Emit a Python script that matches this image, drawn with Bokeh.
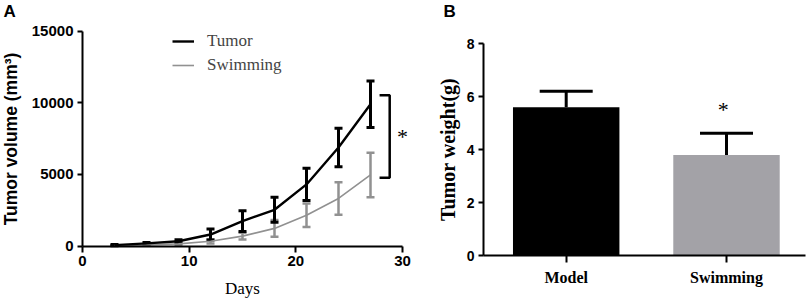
from bokeh.plotting import figure
from bokeh.models import (Range1d, FixedTicker, Whisker, TeeHead, ColumnDataSource,
                          Label, Legend, LegendItem)
from bokeh.layouts import row
from bokeh.embed import file_html
from bokeh.resources import INLINE

# ---------------- data ----------------
days = [3, 6, 9, 12, 15, 18, 21, 24, 27]
tumor_mean = [60, 180, 330, 800, 1740, 2530, 4300, 6880, 9900]
tumor_err = [40, 60, 100, 380, 730, 880, 1130, 1340, 1630]
swim_mean = [30, 80, 150, 330, 690, 1230, 2150, 3320, 4960]
swim_err = [20, 40, 60, 150, 230, 580, 820, 1140, 1550]

groups = ["Model", "Swimming"]
weight_mean = [5.60, 3.80]
weight_err = [0.61, 0.82]

x_ticks_a = [0, 10, 20, 30]
y_ticks_a = [0, 5000, 10000, 15000]
y_ticks_b = [0, 2, 4, 6, 8]

SANS = "Liberation Sans"
SERIF = "Liberation Serif"
GRAY = "#919191"
BAR_GRAY = "#a3a2a7"

H = 301
WA, WB = 420, 389


def ranges_for(width, x0_px, x1_px, x0_val, x1_val, y0_px, y1_px, y0_val, y1_val):
    """Data ranges so that the given values fall at the given pixel positions of a
    frame that fills the whole figure."""
    sx = (x1_val - x0_val) / (x1_px - x0_px)
    sy = (y1_val - y0_val) / (y0_px - y1_px)
    xs, xe = x0_val - x0_px * sx, x0_val + (width - x0_px) * sx
    ys, ye = y0_val - (H - y0_px) * sy, y0_val + y0_px * sy
    return (xs, xe, ys, ye, sx, sy)


def style_axes(p):
    p.xgrid.visible = False
    p.ygrid.visible = False
    p.outline_line_color = None
    for ax in (p.xaxis[0], p.yaxis[0]):
        ax.axis_line_width = 2
        ax.axis_line_color = "black"
        ax.major_tick_line_width = 2
        ax.major_tick_line_color = "black"
        ax.major_tick_in = 0
        ax.minor_tick_line_color = None
        ax.major_label_text_color = "black"
        ax.axis_label_text_color = "black"
        ax.axis_label_text_font_style = "bold"


# ---------------- panel A ----------------
xa0, xa1, ya0, ya1, sxa, sya = ranges_for(WA, 82, 402, 0, 30, 245.5, 30.7, 0, 15000)
pa = figure(width=WA, height=H, x_range=Range1d(xa0, xa1), y_range=Range1d(ya0, ya1),
            output_backend="svg", toolbar_location=None,
            min_border_left=0, min_border_right=0, min_border_top=0, min_border_bottom=0)
style_axes(pa)
pa.xaxis.fixed_location = 0
pa.yaxis.fixed_location = 0
pa.xaxis.bounds = (x_ticks_a[0], x_ticks_a[-1])
pa.yaxis.bounds = (y_ticks_a[0], y_ticks_a[-1])
pa.xaxis.ticker = FixedTicker(ticks=x_ticks_a)
pa.yaxis.ticker = FixedTicker(ticks=y_ticks_a)
pa.xaxis.major_tick_out = 6
pa.yaxis.major_tick_out = 5
for ax in (pa.xaxis[0], pa.yaxis[0]):
    ax.major_label_text_font = SANS
    ax.major_label_text_font_style = "bold"
    ax.major_label_text_font_size = "15px"
    ax.major_label_standoff = 4
pa.xaxis.axis_label = "Days"
pa.xaxis.axis_label_text_font = SERIF
pa.xaxis.axis_label_text_font_style = "normal"
pa.xaxis.axis_label_text_font_size = "17px"
pa.xaxis.axis_label_standoff = 9
pa.yaxis.axis_label = "Tumor volume (mm³)"
pa.yaxis.axis_label_text_font = SANS
pa.yaxis.axis_label_text_font_size = "17.5px"
pa.yaxis.axis_label_standoff = 8

src_t = ColumnDataSource(dict(x=days, m=tumor_mean,
                              up=[m + e for m, e in zip(tumor_mean, tumor_err)],
                              lo=[m - e for m, e in zip(tumor_mean, tumor_err)]))
src_s = ColumnDataSource(dict(x=days, m=swim_mean,
                              up=[m + e for m, e in zip(swim_mean, swim_err)],
                              lo=[m - e for m, e in zip(swim_mean, swim_err)]))

ws = Whisker(base="x", upper="up", lower="lo", source=src_s, line_color=GRAY, line_width=2.5,
             upper_head=TeeHead(size=8, line_color=GRAY, line_width=2.5),
             lower_head=TeeHead(size=8, line_color=GRAY, line_width=2.5))
pa.add_layout(ws)
l_s = pa.line("x", "m", source=src_s, line_color=GRAY, line_width=1.6)
wt = Whisker(base="x", upper="up", lower="lo", source=src_t, line_color="black", line_width=3,
             upper_head=TeeHead(size=8, line_color="black", line_width=3),
             lower_head=TeeHead(size=8, line_color="black", line_width=3))
pa.add_layout(wt)
l_t = pa.line("x", "m", source=src_t, line_color="black", line_width=2.4)

# legend: top-left corner of the box at (172, 30) in pixels; box is 2*22+2 = 46 tall
legend = Legend(items=[LegendItem(label="Tumor", renderers=[l_t]),
                       LegendItem(label="Swimming", renderers=[l_s])],
                location=(172, H - 30 - 46), padding=0, margin=0, spacing=2,
                glyph_width=22, glyph_height=22, label_height=22, label_standoff=13,
                label_text_font=SERIF, label_text_font_size="17px",
                border_line_color=None, background_fill_alpha=0)
pa.add_layout(legend)

# significance bracket
b_top = tumor_mean[-1] + 620
b_bot = swim_mean[-1] - 190
bx0 = days[-1] + 0.85
bx1 = days[-1] + 1.8
pa.line([bx0, bx1, bx1, bx0], [b_top, b_top, b_bot, b_bot], line_color="black", line_width=2.5)
pa.add_layout(Label(x=days[-1] + 3.0, y=(b_top + b_bot) / 2, text="*", text_font=SERIF,
                    text_font_size="22px", text_align="center", text_baseline="middle",
                    text_color="black"))
pa.add_layout(Label(x=xa0 + 3 * sxa, y=ya1 - 1 * sya, text="A", text_font=SANS,
                    text_font_style="bold", text_font_size="17px", text_baseline="top",
                    text_align="left", text_color="black"))

# ---------------- panel B ----------------
xs = [i + 1 for i in range(len(groups))]
xb0, xb1, yb0, yb1, sxb, syb = ranges_for(WB, 145.7, 306, xs[0], xs[1], 255, 43.3, 0, 8)
pb = figure(width=WB, height=H, x_range=Range1d(xb0, xb1), y_range=Range1d(yb0, yb1),
            output_backend="svg", toolbar_location=None,
            min_border_left=0, min_border_right=0, min_border_top=0, min_border_bottom=0)
style_axes(pb)
x_axis_start = xb0 + 63 * sxb
x_axis_end = xb0 + 385 * sxb
pb.xaxis.fixed_location = 0
pb.yaxis.fixed_location = x_axis_start
pb.xaxis.bounds = (x_axis_start, x_axis_end)
pb.yaxis.bounds = (y_ticks_b[0], y_ticks_b[-1])
pb.xaxis.ticker = FixedTicker(ticks=xs)
pb.xaxis.major_label_overrides = {x: g for x, g in zip(xs, groups)}
pb.yaxis.ticker = FixedTicker(ticks=y_ticks_b)
pb.yaxis.major_tick_out = 5
pb.xaxis.major_tick_out = 7
pb.yaxis.major_label_text_font = SANS
pb.yaxis.major_label_text_font_style = "bold"
pb.yaxis.major_label_text_font_size = "14px"
pb.yaxis.major_label_standoff = 4
pb.xaxis.major_label_text_font = SERIF
pb.xaxis.major_label_text_font_style = "bold"
pb.xaxis.major_label_text_font_size = "16px"
pb.xaxis.major_label_standoff = 6
pb.yaxis.axis_label = "Tumor weight(g)"
pb.yaxis.axis_label_text_font = SERIF
pb.yaxis.axis_label_text_font_size = "20px"
pb.yaxis.axis_label_standoff = 5

src_b = ColumnDataSource(dict(x=xs, m=weight_mean,
                              up=[m + e for m, e in zip(weight_mean, weight_err)],
                              c=["black", BAR_GRAY]))
pb.vbar(x="x", top="m", width=0.664, source=src_b, fill_color="c", line_color=None)
wb = Whisker(base="x", upper="up", lower="m", source=src_b, line_color="black", line_width=3,
             upper_head=TeeHead(size=53, line_color="black", line_width=3), lower_head=None)
pb.add_layout(wb)
pb.add_layout(Label(x=xs[1] - 0.02, y=weight_mean[1] + weight_err[1] + 0.9, text="*",
                    text_font=SERIF, text_font_size="22px", text_align="center",
                    text_baseline="middle", text_color="black"))
pb.add_layout(Label(x=xb0 + 23 * sxb, y=yb1 - 1 * syb, text="B", text_font=SANS,
                    text_font_style="bold", text_font_size="17px", text_baseline="top",
                    text_align="left", text_color="black"))

layout = row(pa, pb)
open("out.html", "w").write(file_html(layout, INLINE))
